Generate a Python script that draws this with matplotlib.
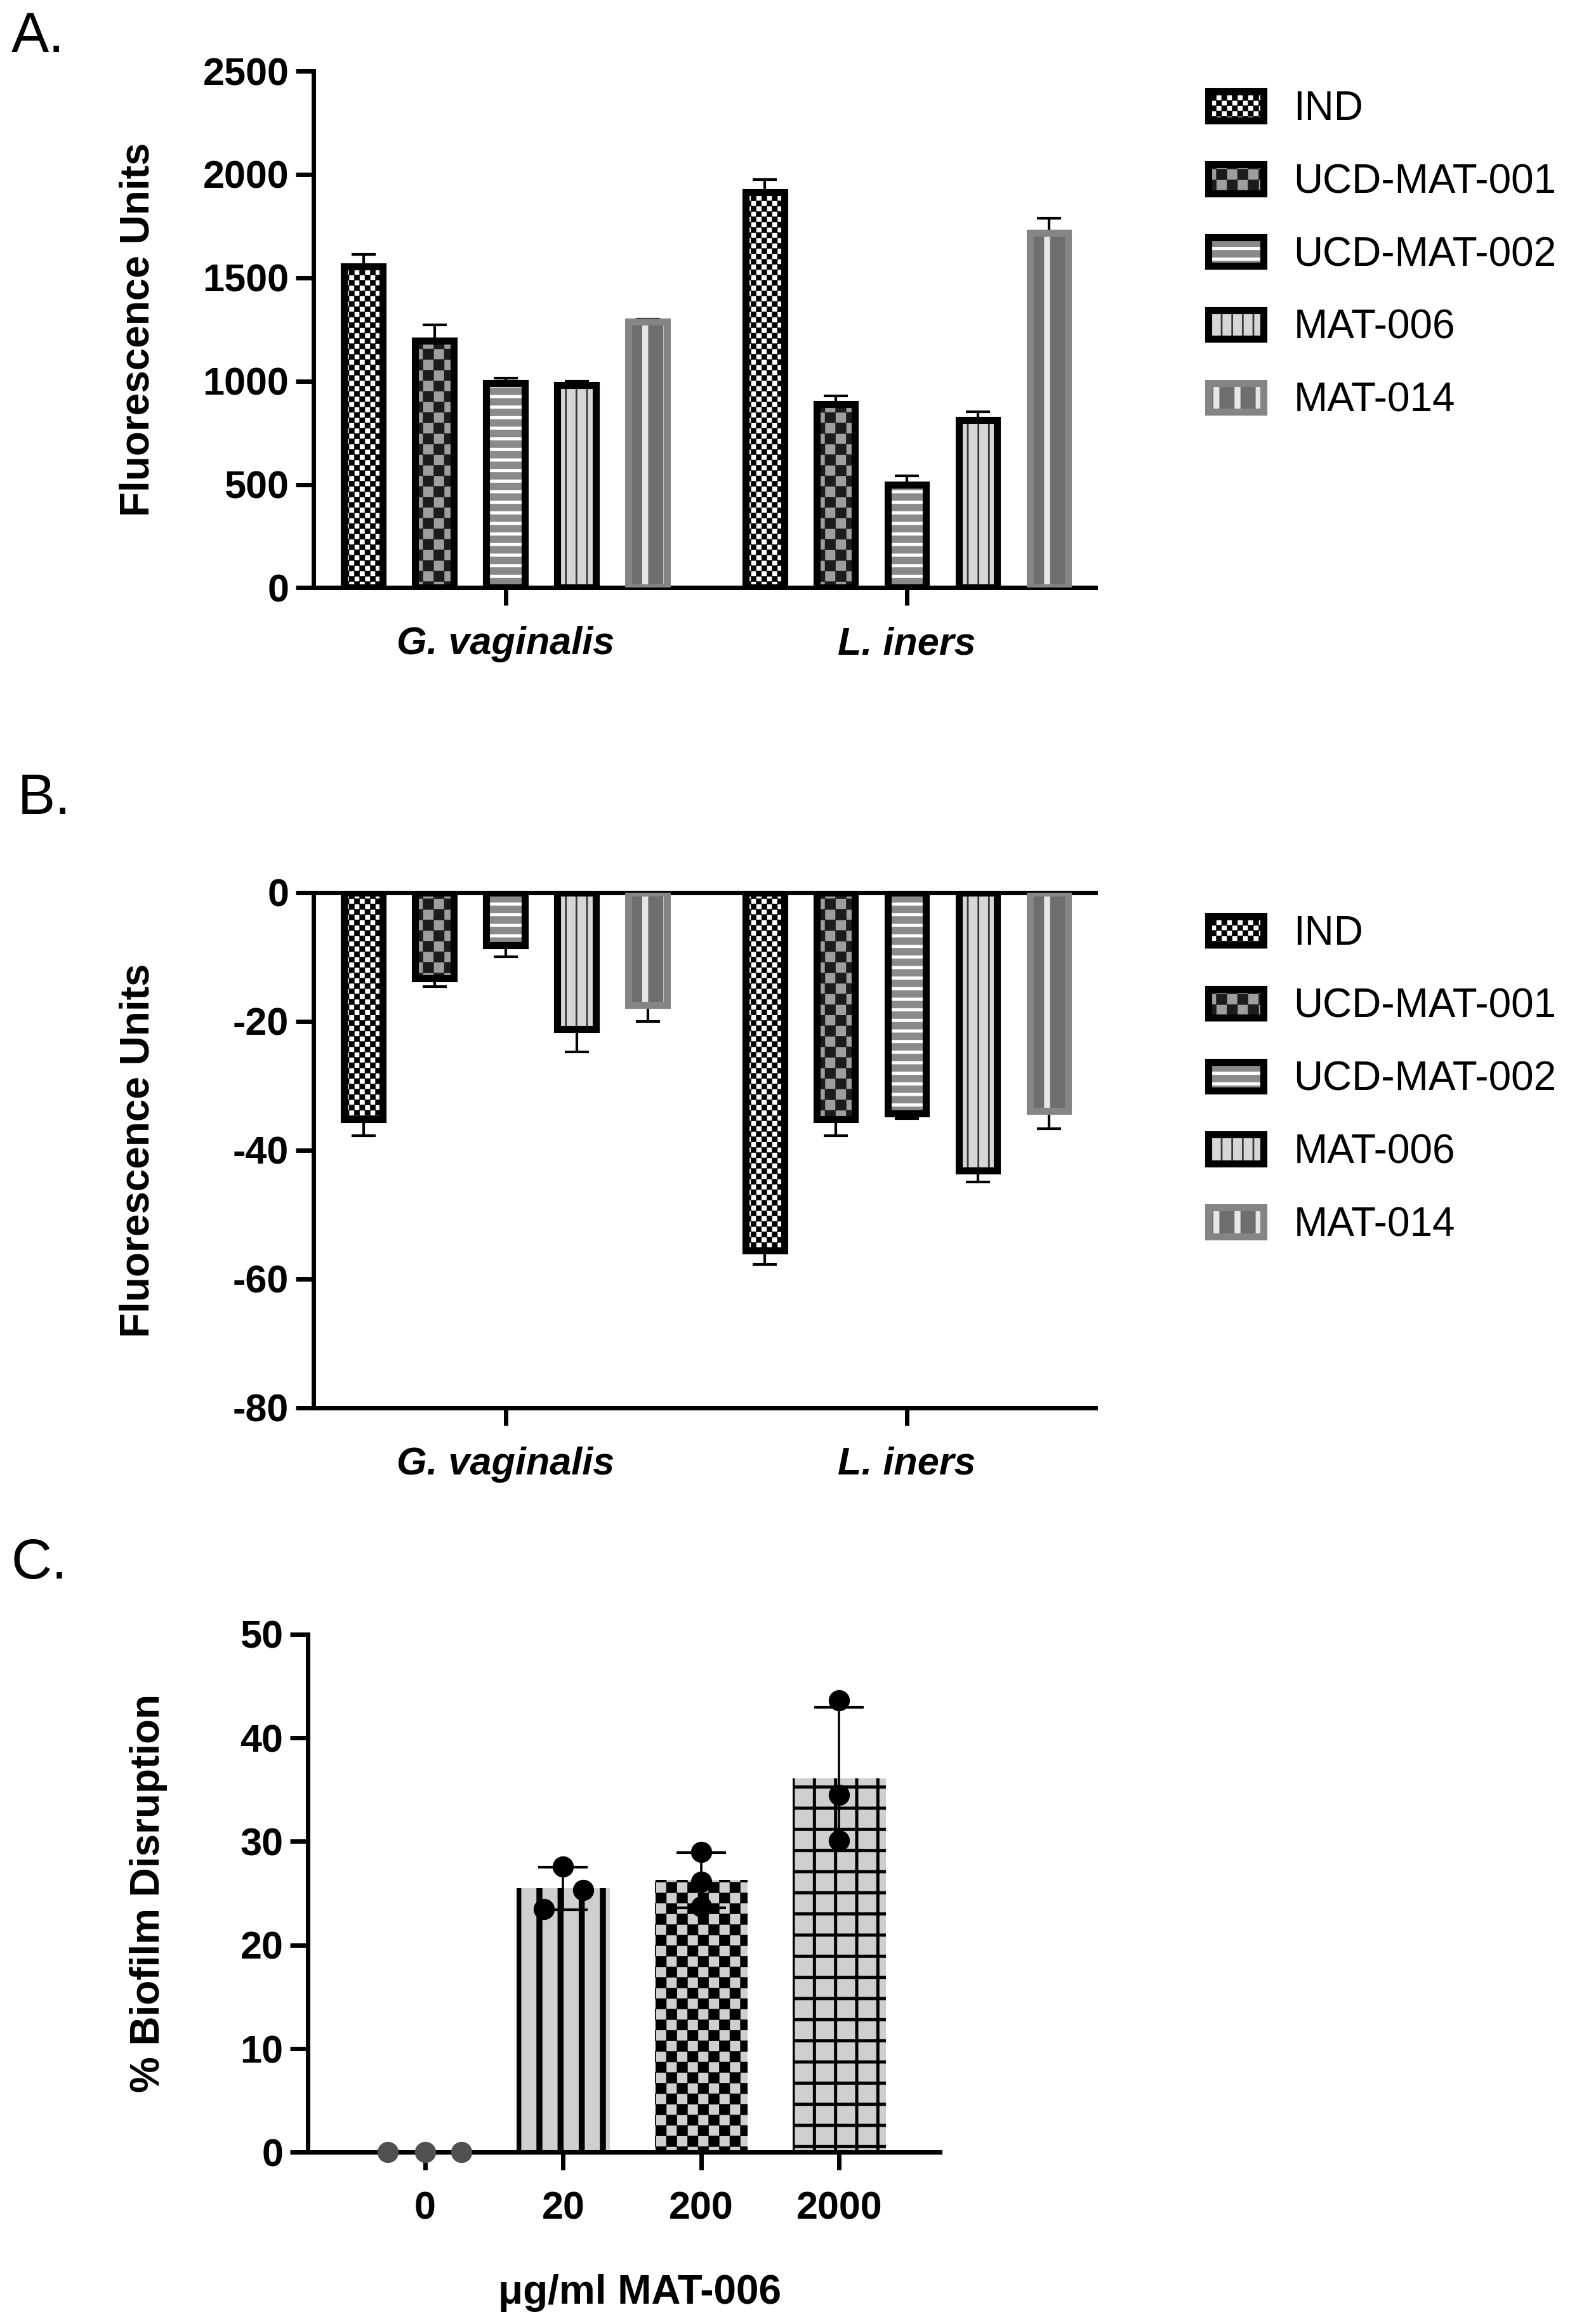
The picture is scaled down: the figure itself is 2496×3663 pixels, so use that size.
import numpy as np
import matplotlib
matplotlib.use('Agg')
import matplotlib.pyplot as plt
import matplotlib.hatch as mhatch
from matplotlib.path import Path
from matplotlib.backend_bases import GraphicsContextBase

plt.rcParams['font.family'] = ['Liberation Sans', 'DejaVu Sans']
plt.rcParams['font.weight'] = 'bold'
plt.rcParams['axes.unicode_minus'] = False
plt.rcParams['axes.linewidth'] = 2.5

# ---- data -------------------------------------------------------------
series = ['IND', 'UCD-MAT-001', 'UCD-MAT-002', 'MAT-006', 'MAT-014']
species = ['G. vaginalis', 'L. iners']

# panel A: fluorescence (mean, upper error) per species
a_gv = [1556, 1195, 991, 979, 1288]
a_gv_err = [56, 78, 22, 19, 12]
a_li = [1914, 888, 498, 813, 1717]
a_li_err = [62, 41, 45, 39, 71]

# panel B: change in fluorescence
b_gv = [-35.2, -13.3, -8.2, -21.2, -17.4]
b_gv_err = [2.6, 1.3, 1.8, 3.5, 2.6]
b_li = [-55.6, -35.2, -34.3, -43.2, -33.9]
b_li_err = [2.2, 2.6, 0.8, 1.7, 2.8]

# panel C: % biofilm disruption, three replicates per dose
doses = ['0', '20', '200', '2000']
c_reps = [[0.0, 0.0, 0.0],
          [23.5, 27.6, 25.3],
          [29.0, 26.1, 23.7],
          [43.6, 34.5, 30.1]]
c_jitter = [[-0.27, 0.0, 0.26],
            [-0.14, 0.0, 0.145],
            [0.0, 0.0, 0.0],
            [0.0, 0.0, 0.0]]


# ---- checkerboard hatch ----------------------------------------------
class CheckerHatch(mhatch.HatchPatternBase):
    def __init__(self, hatch, density):
        self.n = hatch.count('c') * density
        self.num_vertices = 5 * (self.n * self.n // 2)

    def set_vertices_and_codes(self, vertices, codes):
        n = self.n
        s = 1.0 / n
        k = 0
        for i in range(n):
            for j in range(n):
                if (i + j) % 2 == 0:
                    x0, y0 = i * s, j * s
                    vertices[k:k + 5] = [(x0, y0), (x0 + s, y0), (x0 + s, y0 + s),
                                         (x0, y0 + s), (x0, y0)]
                    codes[k:k + 5] = [Path.MOVETO, Path.LINETO, Path.LINETO,
                                      Path.LINETO, Path.CLOSEPOLY]
                    k += 5


mhatch._hatch_types.append(CheckerHatch)
mhatch._validate_hatch_pattern = lambda hatch: None

# hatch line width per pattern (points)
hatch_lw = {'cccc': 0.2, 'cc': 0.2, '--': 1.8, '||': 1.0, '|': 3.4, '+': 1.8}
_orig_hlw = GraphicsContextBase.get_hatch_linewidth


def _hatch_linewidth(self):
    return hatch_lw.get(self.get_hatch(), _orig_hlw(self))


GraphicsContextBase.get_hatch_linewidth = _hatch_linewidth

# fill, hatch, hatch colour, edge colour
styles = {
    'IND':         ('white',   'cccc', 'black',   'black'),
    'UCD-MAT-001': ('#9e9e9e', 'cc',   '#1c1c1c', 'black'),
    'UCD-MAT-002': ('#8a8a8a', '--',   'white',   'black'),
    'MAT-006':     ('#d6d6d6', '||',   '#3a3a3a', 'black'),
    'MAT-014':     ('#6e6e6e', '|',    '#e6e6e6', '#858585'),
}

fig = plt.figure(figsize=(12.48, 18.315), dpi=200)

group_gap = 5.65
bar_w = 0.54


def grouped_panel(ax, vals, errs, down):
    handles = []
    for i, name in enumerate(series):
        fill, hatch, hcol, edge = styles[name]
        xs = [g * group_gap + i for g in range(len(species))]
        hs = [vals[g][i] for g in range(len(species))]
        es = [errs[g][i] for g in range(len(species))]
        zero = [0] * len(xs)
        yerr = [es, zero] if down else [zero, es]
        ax.errorbar(xs, hs, yerr=yerr, fmt='none', ecolor='black', elinewidth=1.5,
                    capsize=7, capthick=1.5, zorder=1.5)
        b1 = ax.bar(xs, hs, bar_w, color=fill, edgecolor=hcol, linewidth=0,
                    hatch=hatch, zorder=2)
        b2 = ax.bar(xs, hs, bar_w, color='none', edgecolor=edge, linewidth=4, zorder=3)
        handles.append((b1, b2))
    ax.set_xlim(-0.7, 10.3)
    ax.set_xticks([g * group_gap + 2 for g in range(len(species))])
    ax.set_xticklabels(species, fontstyle='italic', fontweight='bold', fontsize=22)
    ax.spines['right'].set_visible(False)
    ax.tick_params(axis='both', width=2.5, length=10, labelsize=22)
    ax.tick_params(axis='x', pad=12)
    ax.tick_params(axis='y', pad=4)
    ax.set_ylabel('Fluorescence Units', fontsize=23, fontweight='bold')
    ax.yaxis.set_label_coords(-0.2, 0.5)
    return handles


legend_kw = dict(loc='upper left', bbox_transform=fig.transFigure, frameon=False,
                 borderpad=0, borderaxespad=0, handlelength=1.35, handleheight=0.72,
                 handletextpad=0.75, labelspacing=0.86,
                 prop={'size': 23, 'weight': 'normal'})

# ---- panel A --------------------------------------------------------
axA = fig.add_axes([0.198, 0.7471, 0.4935, 0.2223])
hA = grouped_panel(axA, [a_gv, a_li], [a_gv_err, a_li_err], down=False)
axA.set_ylim(0, 2500)
axA.set_yticks(np.arange(0, 2501, 500))
axA.spines['top'].set_visible(False)
axA.legend(hA, series, bbox_to_anchor=(0.763, 0.9612), **legend_kw)

# ---- panel B --------------------------------------------------------
axB = fig.add_axes([0.198, 0.3943, 0.4935, 0.2216])
hB = grouped_panel(axB, [b_gv, b_li], [b_gv_err, b_li_err], down=True)
axB.set_ylim(-80, 0)
axB.set_yticks(np.arange(-80, 1, 20))
axB.legend(hB, series, bbox_to_anchor=(0.763, 0.6064), **legend_kw)

# ---- panel C --------------------------------------------------------
axC = fig.add_axes([0.1944, 0.0739, 0.399, 0.2229])
c_mean = [np.mean(r) for r in c_reps]
c_sd = [np.std(r, ddof=1) for r in c_reps]
xc = np.arange(len(doses))
c_styles = [('#cfcfcf', ''), ('#cfcfcf', '|'), ('#cfcfcf', 'cc'), ('#cfcfcf', '+')]
for i in range(len(doses)):
    fill, hatch = c_styles[i]
    axC.bar([xc[i]], [c_mean[i]], 0.675, color=fill, edgecolor='black', linewidth=0,
            hatch=hatch, zorder=2)
    if c_sd[i] > 0:
        axC.errorbar([xc[i]], [c_mean[i]], yerr=[c_sd[i]], fmt='none', ecolor='black',
                     elinewidth=1.3, capsize=14, capthick=1.5, zorder=4)
    pcol = '#505050' if c_mean[i] == 0 else 'black'
    axC.plot(xc[i] + np.array(c_jitter[i]), c_reps[i], 'o', color=pcol,
             markersize=11, zorder=5, clip_on=False)
axC.set_xlim(-0.85, 3.73)
axC.set_ylim(0, 50)
axC.set_yticks(np.arange(0, 51, 10))
axC.set_xticks(xc)
axC.set_xticklabels(doses)
axC.spines['top'].set_visible(False)
axC.spines['right'].set_visible(False)
axC.tick_params(axis='both', width=2.5, length=10, labelsize=22)
axC.tick_params(axis='x', pad=12)
axC.tick_params(axis='y', pad=4)
axC.set_ylabel('% Biofilm Disruption', fontsize=23, fontweight='bold')
axC.yaxis.set_label_coords(-0.222, 0.5)
axC.set_xlabel('μg/ml MAT-006', fontsize=23, fontweight='bold', labelpad=34)
axC.xaxis.set_label_coords(0.525, -0.235)

# ---- panel letters --------------------------------------------------
for letter, xf, yf in [('A.', 0.007, 0.984), ('B.', 0.011, 0.656), ('C.', 0.007, 0.327)]:
    fig.text(xf, yf, letter, fontsize=32, fontweight='normal', va='center', ha='left')

fig.savefig('out.png', dpi=200)
